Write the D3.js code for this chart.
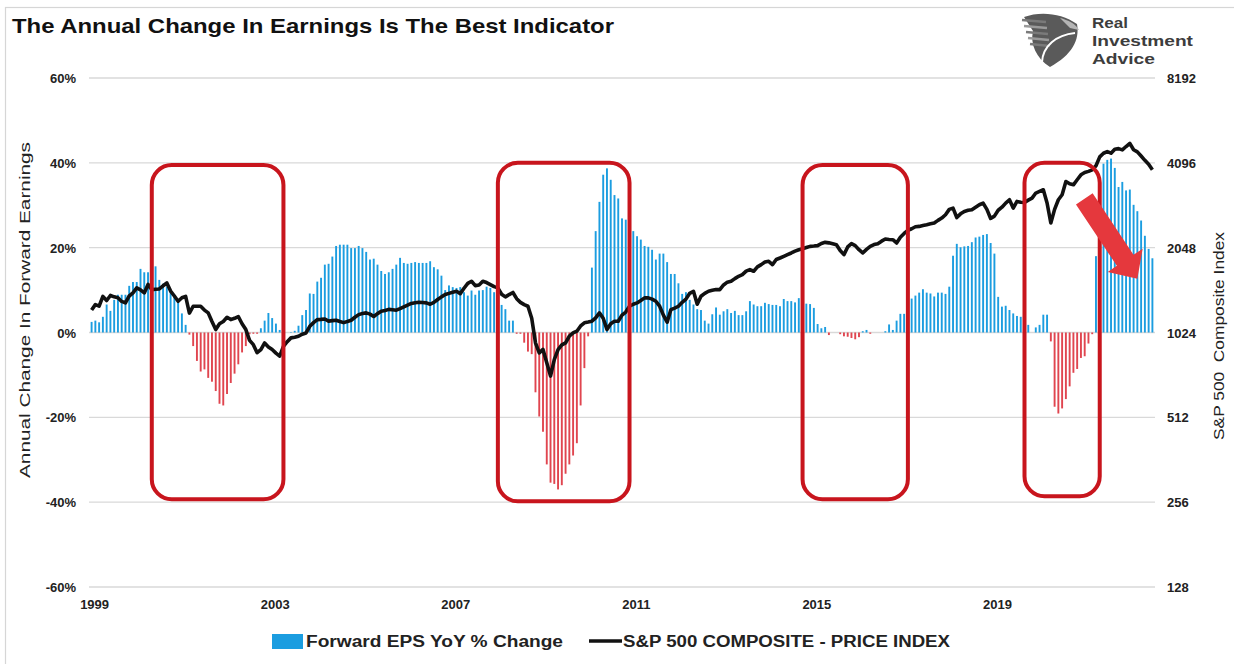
<!DOCTYPE html>
<html>
<head>
<meta charset="utf-8">
<script src="https://cdnjs.cloudflare.com/ajax/libs/d3/7.8.5/d3.min.js"></script>
<style>
  body { margin: 0; background: #fff; }
  text { font-family: "Liberation Sans", Arial, sans-serif; }
</style>
</head>
<body>
<div id="chart"></div>
<script>

// Forward EPS, year over year % change, monthly Jan 1999 - Jul 2022
var epsChange = [
  2.5, 2.8, 2.4, 3.7, 6.6, 5.1, 7.7, 8.9, 8.9, 8.9,
  11, 11.9, 11.9, 15, 14.2, 14.2, 14.5, 15.6, 12.4, 11.5,
  10.8, 9.9, 8.9, 7.7, 4.5, 1.8, -0.5, -3.2, -6.7, -9.2,
  -8.7, -10.7, -11.6, -13.8, -16.8, -17.2, -14.5, -11.9, -9.7, -7.5,
  -4.7, -3.2, -0.4, -0.3, -0.3, 1.0, 2.8, 4.6, 3.4, 2.1,
  0.6, 0.1, 0, 0.1, 0.4, 1.6, 4.1, 5.3, 9.2, 9.1,
  12, 12.9, 16, 16.2, 17.9, 20.4, 20.7, 20.7, 20.7, 19.9,
  19.9, 20.4, 19.9, 19, 17.2, 17.4, 16, 14.5, 13.8, 14.2,
  15, 16, 17.6, 16.4, 16.2, 16.4, 16.6, 16.4, 16.4, 16.4,
  16.8, 15.4, 14.9, 13.4, 10, 11.1, 10.7, 10.5, 10.7, 9.5,
  8.7, 9.9, 8.9, 9.9, 10, 10.8, 10.5, 9.5, 7.7, 6.5,
  5.5, 2.8, 2.8, -0.3, -0.3, -2.4, -4.5, -5.1, -14.1, -19.8,
  -23.4, -31.1, -35.4, -35.7, -37, -36, -33.3, -31.1, -29, -26.1,
  -17.2, -8.4, -0.9, 15.3, 23.9, 30.8, 37.2, 38.7, 36, 32.4,
  31.6, 26.9, 26.6, 25, 23.9, 22.7, 21.9, 20.4, 20.2, 19.5,
  17.2, 18.6, 18.6, 16.6, 13.8, 13.8, 11.6, 9.1, 9.5, 7.7,
  6.6, 5.5, 5.3, 2.8, 2.1, 4.3, 5.9, 4.2, 5, 5.5,
  4.6, 5.1, 4.1, 4.1, 5, 7.4, 6.6, 6.2, 6.2, 7,
  6.7, 6.5, 6.5, 6.2, 7.9, 7.4, 7.4, 7.1, 8.1, 7.5,
  6.8, 6.7, 5.8, 2.0, 1.0, 1.3, -0.6, 0, 0, -0.4,
  -0.9, -1.0, -1.3, -1.6, -1.1, 0.3, 0.6, -0.3, 0, 0,
  0, 0.3, 1.9, 0.6, 2.8, 4.4, 4.4, 7.5, 8.0, 8.7,
  9.4, 10.2, 9.4, 9.2, 8.5, 9.4, 9.4, 9.1, 10.8, 18.1,
  20.9, 20.1, 20.3, 20.4, 21.3, 22.4, 22.6, 23, 23.2, 21.1,
  18.6, 8.4, 6.1, 6.3, 5.3, 4.5, 3.9, 3.7, 2.5, 1.8,
  0, 1.2, 1.8, 4.2, 4.2, -2.1, -17.5, -19.1, -17.9, -15.7,
  -12.7, -9.5, -8.6, -6.0, -5.6, -2.6, -0.4, 18, 34.6, 39.8,
  40.7, 41, 38.8, 34.3, 35.5, 33.5, 33.7, 30.1, 28.6, 26.4,
  22.8, 19.7, 17.5
];

// S&P 500 composite price index, same months
var spxPrice = [
  1230, 1286, 1270, 1376, 1330, 1386, 1370, 1360, 1320, 1304,
  1380, 1415, 1475, 1450, 1415, 1517, 1454, 1458, 1462, 1500,
  1535, 1436, 1380, 1322, 1360, 1376, 1200, 1269, 1269, 1269,
  1230, 1202, 1120, 1049, 1100, 1121, 1160, 1138, 1150, 1167,
  1100, 1049, 960, 927, 868, 891, 940, 910, 891, 865,
  844, 915, 950, 980, 985, 993, 1010, 1020, 1077, 1110,
  1138, 1140, 1144, 1124, 1128, 1132, 1120, 1110, 1120, 1132,
  1160, 1185, 1195, 1202, 1190, 1167, 1195, 1218, 1225, 1237,
  1233, 1229, 1245, 1263, 1280, 1298, 1305, 1311, 1308, 1304,
  1290, 1310, 1341, 1370, 1396, 1410, 1423, 1434, 1407, 1470,
  1530, 1556, 1502, 1510, 1556, 1540, 1515, 1490, 1474, 1400,
  1370, 1396, 1420, 1350, 1310, 1286, 1269, 1150, 941, 867,
  892, 800, 717, 821, 890, 925, 941, 994, 1020, 1035,
  1080, 1108, 1115, 1123, 1154, 1202, 1150, 1050, 1100, 1123,
  1123, 1180, 1210, 1269, 1290, 1304, 1330, 1359, 1359, 1345,
  1322, 1270, 1180, 1114, 1235, 1250, 1269, 1310, 1345, 1410,
  1434, 1290, 1377, 1410, 1434, 1445, 1454, 1454, 1510, 1545,
  1556, 1590, 1621, 1643, 1690, 1712, 1689, 1750, 1783, 1820,
  1832, 1783, 1860, 1882, 1908, 1935, 1961, 1990, 2014, 2030,
  2050, 2070, 2075, 2082, 2120, 2139, 2130, 2115, 2098, 2000,
  1935, 2060, 2116, 2082, 2014, 1961, 2020, 2070, 2100, 2116,
  2160, 2198, 2190, 2186, 2128, 2230, 2300, 2360, 2390, 2430,
  2437, 2455, 2471, 2490, 2505, 2560, 2608, 2680, 2800, 2830,
  2620, 2700, 2754, 2780, 2792, 2850, 2908, 2947, 2800, 2600,
  2650, 2780, 2850, 2947, 3029, 2830, 2988, 2970, 2963, 3020,
  3070, 3200, 3242, 3287, 2950, 2505, 2800, 3029, 3156, 3517,
  3450, 3423, 3566, 3714, 3785, 3820, 3869, 4000, 4300, 4430,
  4492, 4432, 4580, 4600, 4554, 4680, 4800, 4560, 4480, 4330,
  4180, 4050, 3870
];

var xTickYears = ['1999', '2003', '2007', '2011', '2015', '2019'];
var leftTicks = [-60, -40, -20, 0, 20, 40, 60];
var rightTicks = [128, 256, 512, 1024, 2048, 4096, 8192];

// highlighted periods: [first month, last month, top %, bottom %]
var boxes = [
  ['2000-05', '2003-04', 39.5, -39.3],
  ['2008-01', '2010-12', 40, -39.8],
  ['2014-10', '2017-02', 39.5, -39.3],
  ['2019-09', '2021-05', 40, -38.6]
];

var width = 1234,
    height = 664;

var svg = d3.select('#chart')
  .append('svg')
  .attr('width', width)
  .attr('height', height);

// months as categories
var months = d3.timeMonth.range(new Date(1999, 0, 1), new Date(2022, 7, 1))
  .map(d3.timeFormat('%Y-%m'));

var x = d3.scalePoint()
  .domain(months)
  .range([91.6, 1152.4]);

var xAt = (i) => x(months[0]) + i * x.step();

var yL = d3.scaleLinear()
  .domain([-60, 60])
  .range([587, 78]);

var yR = d3.scaleLog()
  .base(2)
  .domain([128, 8192])
  .range([587, 78]);

// outer frame
svg.append('rect')
  .attr('x', 5.5).attr('y', 7.5)
  .attr('width', 1300).attr('height', 700)
  .attr('fill', 'none')
  .attr('stroke', '#d6d6d6')
  .attr('stroke-width', 1.2);

// title
svg.append('text')
  .attr('x', 12)
  .attr('y', 33)
  .attr('font-size', 21)
  .attr('font-weight', 'bold')
  .attr('fill', '#111')
  .attr('textLength', 602)
  .attr('lengthAdjust', 'spacingAndGlyphs')
  .text('The Annual Change In Earnings Is The Best Indicator');

// gridlines
svg.append('g')
  .selectAll('line')
  .data(leftTicks)
  .enter()
  .append('line')
  .attr('x1', 89)
  .attr('x2', 1155)
  .attr('y1', (d) => yL(d))
  .attr('y2', (d) => yL(d))
  .attr('stroke', '#d9d9d9')
  .attr('stroke-width', 1.3);

// EPS bars
svg.append('g')
  .selectAll('rect')
  .data(epsChange)
  .enter()
  .append('rect')
  .attr('x', (d, i) => xAt(i) - 0.95)
  .attr('width', 1.9)
  .attr('y', (d) => yL(Math.max(d, 0)))
  .attr('height', (d) => Math.abs(yL(d) - yL(0)))
  .attr('fill', (d) => d >= 0 ? '#1b9de0' : '#e0454f');

// S&P line
var line = d3.line()
  .x((d, i) => xAt(i))
  .y((d) => yR(d));

svg.append('path')
  .datum(spxPrice)
  .attr('d', line)
  .attr('fill', 'none')
  .attr('stroke', '#111')
  .attr('stroke-width', 3.6)
  .attr('stroke-linejoin', 'round');

// red highlight boxes
svg.append('g')
  .selectAll('rect')
  .data(boxes)
  .enter()
  .append('rect')
  .attr('x', (d) => x(d[0]))
  .attr('y', (d) => yL(d[2]))
  .attr('width', (d) => x(d[1]) - x(d[0]))
  .attr('height', (d) => yL(d[3]) - yL(d[2]))
  .attr('rx', 20)
  .attr('fill', 'none')
  .attr('stroke', '#c8151d')
  .attr('stroke-width', 4);

// arrow pointing down from the 2022 peak
var arrowFrom = [xAt(263.9), yL(31.5)],
    arrowTo = [xAt(278), yL(12.7)];

var drawArrow = (p0, p1, shaft, head, headLen) => {
  var dx = p1[0] - p0[0], dy = p1[1] - p0[1];
  var len = Math.sqrt(dx * dx + dy * dy);
  var ux = dx / len, uy = dy / len, nx = -uy, ny = ux;
  var bx = p1[0] - ux * headLen, by = p1[1] - uy * headLen;
  var pts = [
    [p0[0] + nx * shaft, p0[1] + ny * shaft],
    [bx + nx * shaft, by + ny * shaft],
    [bx + nx * head, by + ny * head],
    p1,
    [bx - nx * head, by - ny * head],
    [bx - nx * shaft, by - ny * shaft],
    [p0[0] - nx * shaft, p0[1] - ny * shaft]
  ];
  return 'M' + pts.map((p) => p.join(',')).join('L') + 'Z';
};

svg.append('path')
  .attr('d', drawArrow(arrowFrom, arrowTo, 10, 21, 22))
  .attr('fill', '#e5383d');

// left axis labels
svg.append('g')
  .selectAll('text')
  .data(leftTicks)
  .enter()
  .append('text')
  .attr('x', 76)
  .attr('y', (d) => yL(d) + 5)
  .attr('text-anchor', 'end')
  .attr('font-size', 13)
  .attr('font-weight', 'bold')
  .attr('fill', '#222')
  .text((d) => d + '%');

// right axis labels
svg.append('g')
  .selectAll('text')
  .data(rightTicks)
  .enter()
  .append('text')
  .attr('x', 1167)
  .attr('y', (d) => yR(d) + 5)
  .attr('font-size', 13)
  .attr('font-weight', 'bold')
  .attr('fill', '#222')
  .text((d) => d);

// x axis labels
svg.append('g')
  .selectAll('text')
  .data(xTickYears)
  .enter()
  .append('text')
  .attr('x', (d) => x(d + '-01') + 3)
  .attr('y', 609)
  .attr('text-anchor', 'middle')
  .attr('font-size', 13)
  .attr('font-weight', 'bold')
  .attr('fill', '#222')
  .text((d) => d);

// axis titles
svg.append('text')
  .attr('transform', 'translate(30,310) rotate(-90)')
  .attr('text-anchor', 'middle')
  .attr('font-size', 15)
  .attr('fill', '#222')
  .attr('textLength', 336)
  .attr('lengthAdjust', 'spacingAndGlyphs')
  .text('Annual Change In Forward Earnings');

svg.append('text')
  .attr('transform', 'translate(1224,336) rotate(-90)')
  .attr('text-anchor', 'middle')
  .attr('font-size', 15)
  .attr('fill', '#222')
  .attr('textLength', 208)
  .attr('lengthAdjust', 'spacingAndGlyphs')
  .attr('xml:space', 'preserve')
  .text('S&P 500  Composite Index');

// legend
var legend = svg.append('g');

legend.append('rect')
  .attr('x', 272).attr('y', 634)
  .attr('width', 31).attr('height', 15)
  .attr('fill', '#1b9de0');

legend.append('text')
  .attr('x', 306).attr('y', 647)
  .attr('font-size', 16)
  .attr('font-weight', 'bold')
  .attr('fill', '#222')
  .attr('textLength', 257)
  .attr('lengthAdjust', 'spacingAndGlyphs')
  .text('Forward EPS YoY % Change');

legend.append('line')
  .attr('x1', 589).attr('x2', 622)
  .attr('y1', 641).attr('y2', 641)
  .attr('stroke', '#111')
  .attr('stroke-width', 3.5);

legend.append('text')
  .attr('x', 623).attr('y', 647)
  .attr('font-size', 16)
  .attr('font-weight', 'bold')
  .attr('fill', '#222')
  .attr('textLength', 327)
  .attr('lengthAdjust', 'spacingAndGlyphs')
  .text('S&P 500 COMPOSITE - PRICE INDEX');

// logo
var logo = svg.append('g');

logo.append('path')
  .attr('d', 'M1024,17 C1040,11 1062,13 1077,24 C1080,40 1072,55 1050,67 C1036,58 1030,44 1033,31 Z')
  .attr('fill', '#5a5a5a');

[20, 26, 32, 38, 44].forEach((yy, k) => {
  logo.append('line')
    .attr('x1', 1022 + k * 2).attr('x2', 1046 + k)
    .attr('y1', yy).attr('y2', yy + 2)
    .attr('stroke', k % 2 ? '#9a9a9a' : '#7a7a7a')
    .attr('stroke-width', 2.5);
});

logo.append('path')
  .attr('d', 'M1042,62 C1043,46 1056,35 1075,33')
  .attr('fill', 'none')
  .attr('stroke', '#fff')
  .attr('stroke-width', 2);

logo.append('path')
  .attr('d', 'M1060,18 C1068,20 1076,24 1079,30 L1070,28 Z')
  .attr('fill', '#b5b5b5');

var logoWords = ['Real', 'Investment', 'Advice'],
    logoWidths = [36, 101, 63];

logoWords.forEach((t, k) => {
  logo.append('text')
    .attr('x', 1092)
    .attr('y', 28 + k * 18)
    .attr('font-size', 15.5)
    .attr('font-weight', 'bold')
    .attr('fill', '#3d3d3d')
    .attr('textLength', logoWidths[k])
    .attr('lengthAdjust', 'spacingAndGlyphs')
    .text(t);
});

</script>
</body>
</html>
